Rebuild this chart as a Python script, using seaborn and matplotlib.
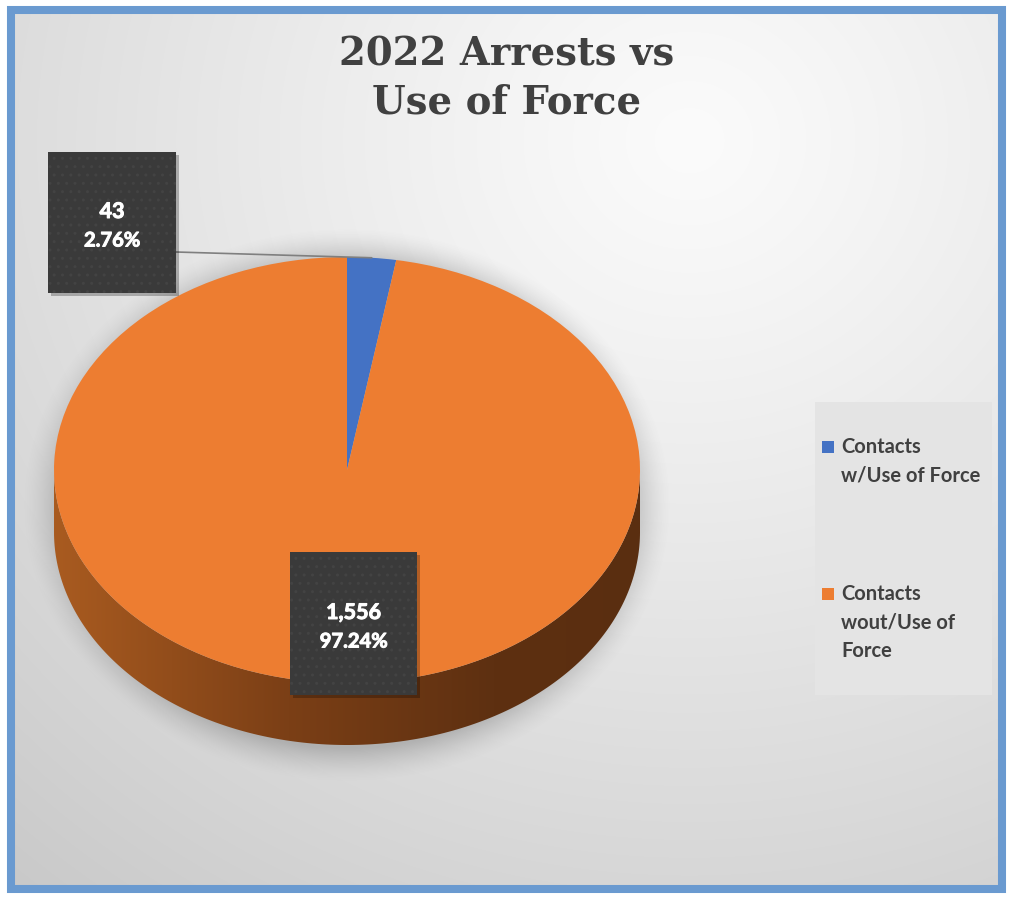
import numpy as np
import matplotlib
matplotlib.use("Agg")
import matplotlib.pyplot as plt
from matplotlib.patches import Rectangle, Polygon
from matplotlib.colors import to_rgb
import matplotlib.patheffects as pe
import seaborn as sns

# ---- chart content ----
title_lines = ["2022 Arrests vs", "Use of Force"]
categories = ["Contacts\nw/Use of Force", "Contacts\nwout/Use of\nForce"]
counts = [43, 1556]
pct_labels = ["2.76%", "97.24%"]
colors = ["#4472C4", "#ED7D31"]

sns.set_theme(style="white")
plt.rcParams["font.family"] = ["Lato", "DejaVu Sans"]
plt.rcParams["hatch.linewidth"] = 1.0

W, H = 1010, 900
fig = plt.figure(figsize=(W / 100, H / 100), dpi=100)
fig.patch.set_facecolor("white")

# ---- background canvas (pixel coordinates, y down) ----
canvas = fig.add_axes([0, 0, 1, 1], zorder=0)
canvas.set_xlim(0, W)
canvas.set_ylim(H, 0)
canvas.axis("off")

x0, x1, y0, y1 = 15, 998, 14, 887
gx = np.linspace(x0, x1, 500)
gy = np.linspace(y0, y1, 450)
GX, GY = np.meshgrid(gx, gy)
r = np.clip(np.hypot((GX - 690) / 1050, (GY - 140) / 980), 0, 1)
light = np.array(to_rgb("#fbfbfb"))
dark = np.array(to_rgb("#c9c9c9"))
bg = light + (dark - light) * (r[..., None] ** 1.15)
canvas.imshow(bg, extent=[x0, x1, y1, y0], aspect="auto", zorder=0,
              interpolation="bilinear")

# pie geometry in pixels
PIE_CX, PIE_CY, PIE_RX, PIE_RY = 347, 470, 293, 213
DEPTH = 62 / PIE_RY

# soft shadow under the pie
sx = np.linspace(0, 700, 350)
sy = np.linspace(200, 820, 310)
SX, SY = np.meshgrid(sx, sy)
d = np.hypot((SX - PIE_CX) / 310, (SY - 505) / 265)
alpha = 0.32 * np.clip((1.05 - d) / 0.13, 0, 1) ** 1.5
shadow = np.zeros(d.shape + (4,))
shadow[..., :3] = 0.35
shadow[..., 3] = alpha
canvas.imshow(shadow, extent=[0, 700, 820, 200], aspect="auto", zorder=1,
              interpolation="bilinear")

canvas.add_patch(Rectangle((11, 10), 991, 879, fill=False,
                           edgecolor="#6A9AD0", lw=5.8, zorder=5))

# ---- pie axes ----
left_px, right_px, top_px, bot_px = 20, 680, 200, 800
ax = fig.add_axes([left_px / W, 1 - bot_px / H,
                   (right_px - left_px) / W, (bot_px - top_px) / H], zorder=2)
ax.patch.set_alpha(0)

wedges, _ = ax.pie(counts, colors=colors, startangle=90, counterclock=False,
                   radius=1, wedgeprops=dict(linewidth=0))
ax.set_aspect("auto")
ax.axis("off")

# cylinder side (front half) with shaded gradient
th = np.linspace(np.pi, 2 * np.pi, 200)
top_edge = np.column_stack([np.cos(th), np.sin(th)])
bot_edge = np.column_stack([np.cos(th[::-1]), np.sin(th[::-1]) - DEPTH])
side = Polygon(np.vstack([top_edge, bot_edge]), closed=True,
               facecolor="none", edgecolor="none")
ax.add_patch(side)
grad_x = np.linspace(0, 1, 300)
stops = [to_rgb("#a95b20"), to_rgb("#7b3f16"), to_rgb("#5e3011"), to_rgb("#5a2e10")]
pos = [0, 0.4, 0.75, 1]
gcol = np.stack([np.interp(grad_x, pos, [s[c] for s in stops]) for c in range(3)], axis=-1)
side_img = ax.imshow(gcol[None, :, :].repeat(4, axis=0),
                     extent=[-1, 1, -1 - DEPTH, 0], aspect="auto",
                     zorder=0.5, interpolation="bilinear")
side_img.set_clip_path(side)
ax.set_xlim(-(PIE_CX - left_px) / PIE_RX, (right_px - PIE_CX) / PIE_RX)
ax.set_ylim(-(bot_px - PIE_CY) / PIE_RY, (PIE_CY - top_px) / PIE_RY)


def to_px(xd, yd):
    return PIE_CX + PIE_RX * xd, PIE_CY - PIE_RY * yd


# ---- overlay: title, data labels, legend ----
over = fig.add_axes([0, 0, 1, 1], zorder=3)
over.set_xlim(0, W)
over.set_ylim(H, 0)
over.axis("off")
over.patch.set_alpha(0)

for i, line in enumerate(title_lines):
    over.text(507, 55 + 48 * i, line, ha="center", va="center",
              family=["DejaVu Serif"], fontweight="bold",
              fontsize=27.8, color="#404040")

# leader line from the small slice to its label box
total = sum(counts)
mid_angle = np.deg2rad(90 - 360 * counts[0] / total / 2)
lx, ly = to_px(np.cos(mid_angle), np.sin(mid_angle))
over.plot([176, lx], [252, ly], color="#7f7f7f", lw=1.2, zorder=1)

boxes = [(48, 152, 128, 141), (290, 552, 127, 143)]
bold_fx = [pe.withStroke(linewidth=0.7, foreground="white")]
for (bx, by, bw, bh), n, p in zip(boxes, counts, pct_labels):
    over.add_patch(Rectangle((bx + 3, by + 3), bw, bh, facecolor="#000000",
                             alpha=0.25, edgecolor="none", zorder=2))
    over.add_patch(Rectangle((bx, by), bw, bh, facecolor="#3a3a3a",
                             edgecolor="#434343", hatch="..", lw=0, zorder=3))
    cx = bx + bw / 2
    cy = by + bh / 2
    over.text(cx, cy - 11, f"{n:,}", ha="center", va="center", color="white",
              fontsize=15.5, fontweight="bold", zorder=4, path_effects=bold_fx)
    over.text(cx, cy + 18, p, ha="center", va="center", color="white",
              fontsize=14.5, fontweight="bold", zorder=4, path_effects=bold_fx)

# legend
over.add_patch(Rectangle((815, 402), 177, 293, facecolor="#e4e4e4",
                         edgecolor="none", zorder=1))
entry_tops = [447, 594]
for top, label, col in zip(entry_tops, categories, colors):
    over.add_patch(Rectangle((822, top - 6), 12, 12, facecolor=col,
                             edgecolor="none", zorder=2))
    for k, line in enumerate(label.split("\n")):
        over.text(841, top + 28.5 * k, line, ha="left", va="center",
                  fontsize=14.5, fontweight="bold", color="#404040", zorder=2)

fig.savefig("out.png", dpi=100)
